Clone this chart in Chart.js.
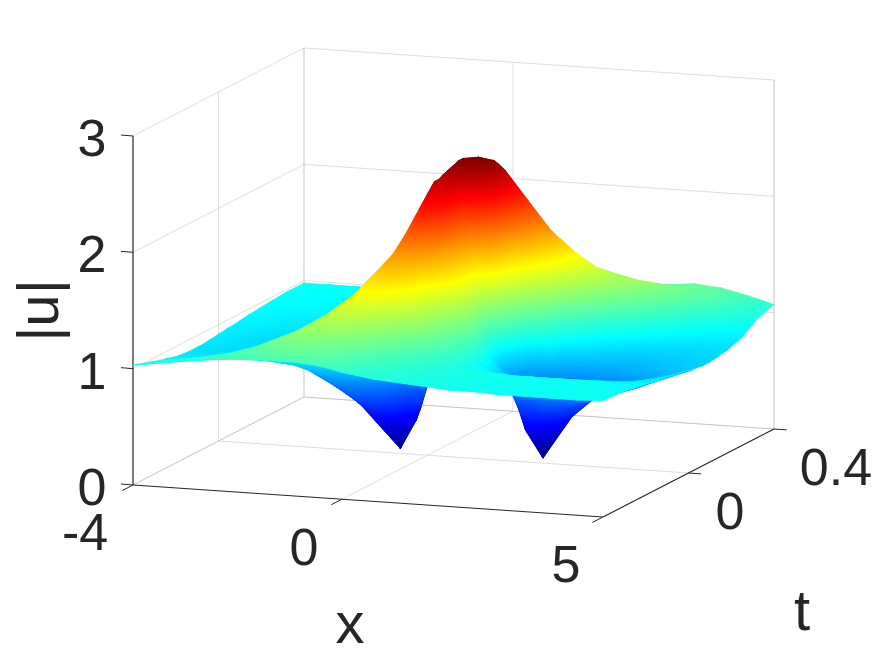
<!DOCTYPE html>
<html><head><meta charset="utf-8">
<style>html,body{margin:0;padding:0;background:#fff}canvas{display:block}</style>
<script src="https://cdn.jsdelivr.net/npm/chart.js@4/dist/chart.umd.min.js"></script>
</head><body><canvas id="c" width="875" height="656"></canvas>
<script>
const xValues = [-4,-3.5,-3,-2.5,-2,-1.5,-1.2,-.9,-.6,-.3,0,.3,.6,.9,1.2,1.5,1.8,2.05,2.3,2.6,3,3.5,4,4.5,5];
const tValues = [-.4,-.32,-.25,-.19,-.14,-.1,-.07,-.04,-.02,0,.02,.04,.07,.1,.14,.19,.25,.32,.4];
const uAtTm40 = [1.03,1.08,1.11,1.13,1.14,1.15,1.15,1.15,1.14,1.12,1.09,1.07,1.05,1.04,1.03,1.02,1.01,1.00,1.00,1.00,.99,.99,.99,.99,1.00];
const uAtTm32 = [.98,1.00,1.05,1.10,1.17,1.27,1.33,1.34,1.31,1.26,1.20,1.14,1.10,1.07,1.05,1.03,1.02,1.01,1.00,1.00,1.00,1.00,1.00,1.00,.99];
const uAtTm25 = [.94,.95,.97,1.00,1.06,1.18,1.30,1.42,1.50,1.50,1.42,1.30,1.20,1.13,1.08,1.05,1.03,1.02,1.01,1.00,1.00,1.00,1.00,.99,.97];
const uAtTm19 = [.91,.91,.92,.93,.96,1.00,1.10,1.30,1.55,1.70,1.72,1.60,1.42,1.28,1.15,1.05,.97,.95,.94,.93,.93,.93,.94,.94,.95];
const uAtTm14 = [.90,.89,.88,.87,.85,.82,.82,.95,1.30,1.70,1.90,1.85,1.60,1.38,1.20,1.05,.92,.86,.85,.84,.84,.85,.88,.90,.93];
const uAtTm10 = [.90,.88,.87,.85,.80,.72,.68,.72,.95,1.45,2.00,2.15,1.90,1.58,1.28,1.02,.84,.78,.74,.72,.73,.75,.81,.87,.92];
const uAtTm07 = [.90,.88,.86,.83,.76,.62,.55,.55,.70,1.20,1.90,2.33,2.15,1.70,1.26,.92,.80,.72,.66,.64,.66,.70,.76,.84,.91];
const uAtTm04 = [.91,.89,.86,.82,.72,.56,.47,.40,.45,.90,1.75,2.40,2.30,1.75,1.23,.86,.74,.65,.55,.55,.60,.66,.73,.82,.90];
const uAtTm02 = [.91,.89,.86,.80,.70,.53,.42,.30,.25,.70,1.60,2.40,2.43,1.95,1.28,.80,.62,.50,.45,.50,.57,.64,.72,.81,.89];
const uAtT00  = [.92,.89,.86,.80,.68,.50,.38,.22,.10,.55,1.45,2.42,2.55,2.55,2.00,.78,.40,.25,.35,.47,.55,.62,.70,.79,.88];
const uAtTp02 = [.92,.89,.86,.80,.68,.52,.40,.22,.02,.27,.70,1.95,2.55,2.57,2.55,1.00,.25,.10,.22,.42,.54,.62,.70,.79,.87];
const uAtTp04 = [.93,.90,.87,.82,.72,.57,.46,.32,.17,.35,.85,1.70,2.30,2.54,2.50,1.45,.22,.00,.17,.37,.53,.63,.71,.79,.87];
const uAtTp07 = [.93,.91,.89,.85,.78,.68,.62,.58,.60,.72,.95,1.35,2.00,2.40,2.42,2.00,1.25,.90,.72,.68,.70,.74,.78,.82,.86];
const uAtTp10 = [.94,.92,.90,.87,.82,.76,.72,.72,.76,.85,1.00,1.20,1.60,2.10,2.28,2.15,1.65,1.15,.95,.85,.80,.79,.80,.83,.86];
const uAtTp14 = [.95,.93,.91,.89,.86,.83,.81,.81,.84,.89,.96,1.05,1.22,1.55,1.95,2.00,1.85,1.58,1.30,1.05,.90,.84,.84,.85,.87];
const uAtTp19 = [.96,.94,.93,.91,.89,.87,.86,.87,.89,.92,.96,1.00,1.07,1.18,1.38,1.60,1.70,1.63,1.53,1.38,1.15,.97,.89,.88,.89];
const uAtTp25 = [.97,.96,.95,.94,.93,.92,.92,.92,.93,.94,.96,.98,1.00,1.03,1.08,1.17,1.30,1.40,1.42,1.40,1.36,1.20,1.02,.95,.93];
const uAtTp32 = [.98,.97,.97,.96,.96,.95,.95,.95,.96,.97,.97,.98,.99,1.00,1.01,1.03,1.05,1.08,1.12,1.18,1.25,1.25,1.20,1.08,1.02];
const uAtTp40 = [.98,.98,.98,.98,.98,.97,.97,.97,.97,.97,.98,.98,.98,.99,1.00,1.02,1.05,1.08,1.12,1.15,1.18,1.20,1.18,1.13,1.07];
const uRows = [uAtTm40,uAtTm32,uAtTm25,uAtTm19,uAtTm14,uAtTm10,uAtTm07,uAtTm04,uAtTm02,uAtT00,uAtTp02,uAtTp04,uAtTp07,uAtTp10,uAtTp14,uAtTp19,uAtTp25,uAtTp32,uAtTp40];
const xTicks = [-4,0,5];
const tTicks = [0,0.4];
const uTicks = [0,1,2,3];
const xTickLabels = ['-4','0','5'];
const tTickLabels = ['0','0.4'];
const uTickLabels = ['0','1','2','3'];

// Oblique view of the box: where the origin corner and the three axes land on the page.
const xLim=[-4,5], tLim=[-0.4,0.4], uLim=[0,3];
const VIEW={ox:133,oy:485,xx:470,xy:32,tx:171,ty:-88,uy:-349};
function project(x,t,u){
  const a=(x-xLim[0])/(xLim[1]-xLim[0]), b=(t-tLim[0])/(tLim[1]-tLim[0]), c=(u-uLim[0])/(uLim[1]-uLim[0]);
  return {x:VIEW.ox+VIEW.xx*a+VIEW.tx*b, y:VIEW.oy+VIEW.xy*a+VIEW.ty*b+VIEW.uy*c};
}

const C_MAX=2.57;
const JET=[[0,'#000084'],[.125,'#0000ff'],[.375,'#00ffff'],[.625,'#ffff00'],[.875,'#ff0000'],[1,'#800000']];
function jetAt(v){
  v=Math.max(0,Math.min(1,v));
  const rgb=h=>[1,3,5].map(i=>parseInt(h.substr(i,2),16));
  for(let i=1;i<JET.length;i++){
    if(v<=JET[i][0]){
      const f=(v-JET[i-1][0])/(JET[i][0]-JET[i-1][0]);
      const A=rgb(JET[i-1][1]),B=rgb(JET[i][1]);
      return 'rgb('+A.map((c,k)=>Math.round(c+(B[k]-c)*f)).join(',')+')';
    }
  }
  return JET[5][1];
}
// Colour of a triangle: the u value is linear across it, so one linear gradient paints it exactly.
function triPaint(ctx3,verts){
  const chart=ctx3.chart, sx=chart.scales.x, sy=chart.scales.y;
  const s0=verts.slice().sort((p,q)=>p.u-q.u);
  const v1=s0[0].u/C_MAX, v2=s0[2].u/C_MAX;
  const flat=jetAt((v1+v2)/2);
  if(!sx||!sy||!chart.chartArea) return null;
  const P=verts.map(v=>({x:sx.getPixelForValue(v.px),y:sy.getPixelForValue(v.py),u:v.u}));
  if(P.some(p=>!isFinite(p.x)||!isFinite(p.y))) return null;
  const s=P.slice().sort((p,q)=>p.u-q.u), lo=s[0], hi=s[2];
  const d1={x:P[1].x-P[0].x,y:P[1].y-P[0].y,u:P[1].u-P[0].u}, d2={x:P[2].x-P[0].x,y:P[2].y-P[0].y,u:P[2].u-P[0].u};
  const det=d1.x*d2.y-d1.y*d2.x;
  if(Math.abs(det)<1e-6||hi.u-lo.u<1e-6) return flat;
  const gx=(d1.u*d2.y-d1.y*d2.u)/det, gy=(d1.x*d2.u-d1.u*d2.x)/det, g2=gx*gx+gy*gy;
  const k=(hi.u-lo.u)/g2;
  const g=chart.ctx.createLinearGradient(lo.x,lo.y,lo.x+gx*k,lo.y+gy*k);
  g.addColorStop(0,jetAt(v1));
  JET.forEach(j=>{ if(j[0]>v1&&j[0]<v2) g.addColorStop((j[0]-v1)/(v2-v1),j[1]); });
  g.addColorStop(1,jetAt(v2));
  return g;
}
function triDataset(verts){
  const pts=verts.map(v=>({x:v.px,y:v.py}));
  pts.push(pts[0]);
  let cache=null;
  const paint=c=>{ if(cache) return cache; const r=triPaint(c,verts); if(r){cache=r; return r;} return '#00ffff'; };
  return {data:pts,showLine:true,fill:'shape',pointRadius:0,tension:0,borderWidth:0.8,borderJoinStyle:'round',backgroundColor:paint,borderColor:paint};
}
function vertex(i,j){ const p=project(xValues[i],tValues[j],uRows[j][i]); return {px:p.x,py:p.y,u:uRows[j][i]}; }

// far cells first (high t, low x), then reversed because Chart.js paints the first dataset on top
const farToNear=[];
for(let j=tValues.length-2;j>=0;j--){
  for(let i=0;i<xValues.length-1;i++){
    const a=vertex(i,j),b=vertex(i+1,j),c=vertex(i+1,j+1),d=vertex(i,j+1);
    farToNear.push(triDataset([a,c,d]));
    farToNear.push(triDataset([a,b,c]));
  }
}
const surface=farToNear.reverse();

function seg(p,q,color,w){ return {data:[p,q],showLine:true,fill:false,pointRadius:0,borderColor:color,borderWidth:w}; }
const GRID='#dfdfdf', EDGE='#c4c4c4', AXIS='#262626';
const lines=[];
const [x0,x1]=xLim,[t0,t1]=tLim,[u0,u1]=uLim;
// ticks and axes
uTicks.forEach(u=>lines.push(seg(project(x0,t0,u),{x:project(x0,t0,u).x-12,y:project(x0,t0,u).y-1},AXIS,1)));
xTicks.forEach(x=>lines.push(seg(project(x,t0,0),project(x,t0-0.05,0),AXIS,1)));
tTicks.forEach(t=>lines.push(seg(project(x1,t,0),project(x1+0.24,t,0),AXIS,1)));
lines.push(seg(project(x0,t0,u0),project(x1,t0,u0),AXIS,1.2));
lines.push(seg(project(x1,t0,u0),project(x1,t1,u0),AXIS,1.2));
lines.push(seg(project(x0,t0,u0),project(x0,t0,u1),AXIS,1.2));
// back planes
lines.push(seg(project(x0,t1,u0),project(x0,t1,u1),EDGE,1));
lines.push(seg(project(x1,t1,u0),project(x1,t1,u1),EDGE,1));
lines.push(seg(project(x0,t0,u0),project(x0,t1,u0),EDGE,1));
lines.push(seg(project(x0,t1,u0),project(x1,t1,u0),EDGE,1));
uTicks.filter(u=>u>0).forEach(u=>{
  lines.push(seg(project(x0,t0,u),project(x0,t1,u),GRID,1));
  lines.push(seg(project(x0,t1,u),project(x1,t1,u),GRID,1));
});
xTicks.filter(x=>x>x0&&x<x1).forEach(x=>{
  lines.push(seg(project(x,t0,0),project(x,t1,0),GRID,1));
  lines.push(seg(project(x,t1,0),project(x,t1,u1),GRID,1));
});
tTicks.filter(t=>t<t1).forEach(t=>{
  lines.push(seg(project(x0,t,0),project(x1,t,0),GRID,1));
  lines.push(seg(project(x0,t,0),project(x0,t,u1),GRID,1));
});

const labelPlugin={id:'labels3d',afterDraw(chart){
  const c=chart.ctx; c.save(); c.fillStyle='#262626'; c.textAlign='center'; c.textBaseline='alphabetic';
  c.font='52px "Liberation Sans"';
  const put=(s,x,y)=>c.fillText(s,x,y);
  uTickLabels.forEach((s,i)=>{ const p=project(x0,t0,uTicks[i]); put(s,p.x-41,p.y+20); });
  put(xTickLabels[0],85,550); put(xTickLabels[1],304,565); put(xTickLabels[2],566,582);
  put(tTickLabels[0],730,529); put(tTickLabels[1],836,485);
  c.font='58px "Liberation Sans"';
  put('x',350,643); put('t',802,630);
  c.save(); c.translate(58,310.5); c.rotate(-Math.PI/2); put('|u|',0,0); c.restore();
  c.restore();
}};

new Chart(document.getElementById('c'),{
  type:'scatter',
  data:{datasets:[...surface,...lines]},
  options:{responsive:false,animation:false,events:[],layout:{padding:0},
    plugins:{legend:{display:false},tooltip:{enabled:false},title:{display:false}},
    scales:{x:{type:'linear',display:false,min:0,max:875},y:{type:'linear',display:false,min:0,max:656,reverse:true}}},
  plugins:[labelPlugin]
});
</script></body></html>
